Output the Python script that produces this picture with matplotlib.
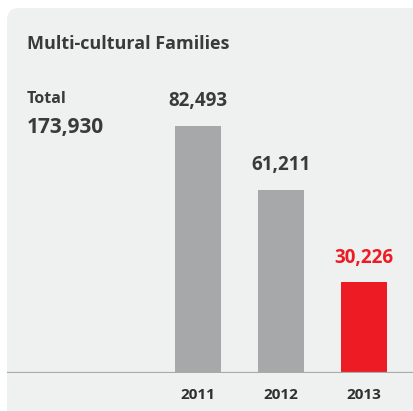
import matplotlib.pyplot as plt
from matplotlib.patches import FancyBboxPatch

years = ['2011', '2012', '2013']
values = [82493, 61211, 30226]
bar_colors = ['#a7a8a9', '#a7a8a9', '#ed1c24']
label_colors = ['#3a3a3a', '#3a3a3a', '#ed1c24']
title = 'Multi-cultural Families'
total_label = 'Total'
total_value = sum(values)

plt.rcParams['font.family'] = ['Open Sans', 'DejaVu Sans']

W, H = 414, 411
fig = plt.figure(figsize=(W / 100, H / 100), dpi=100, facecolor='white')

# grey panel with rounded top-left corner
panel = FancyBboxPatch((7 / W + 0.03, -0.1), 1.2, (403 / H) + 0.1 - 0.03,
                       boxstyle='round,pad=0.03', transform=fig.transFigure,
                       facecolor='#eff0f0', edgecolor='none', zorder=-5)
fig.patches.append(panel)

ax = fig.add_axes([7 / W, 38 / H, 407 / W, 365 / H])
ax.set_zorder(2)
ax.set_facecolor('none')
x = list(range(len(years)))
bars = ax.bar(x, values, width=0.554, color=bar_colors, zorder=2)
ax.set_xlim(-2.301, 2.602)
ax.set_ylim(0, 82493 / 247 * 365)
ax.axhline(0, color='#a9a9a9', lw=1.6, zorder=3)

for xi, v, c in zip(x, values, label_colors):
    ax.text(xi, v + 8200, f'{v:,}', ha='center', va='center', fontsize=13.5,
            fontweight='bold', color=c)

ax.set_xticks(x)
ax.set_xticklabels(years, fontsize=11, fontweight='bold', color='#2f2f2f')
ax.tick_params(axis='x', length=0, pad=11)
ax.set_yticks([])
for s in ax.spines.values():
    s.set_visible(False)

fig.text(27 / W, 1 - 44 / H, title, ha='left', va='center', fontsize=13,
         fontweight='bold', color='#3a3a3a')
fig.text(27 / W, 1 - 99 / H, total_label, ha='left', va='center', fontsize=11.5,
         fontweight='bold', color='#3a3a3a')
fig.text(27 / W, 1 - 127 / H, f'{total_value:,}', ha='left', va='center',
         fontsize=15, fontweight='bold', color='#3a3a3a')

fig.savefig('out.png', dpi=100, facecolor='white')
